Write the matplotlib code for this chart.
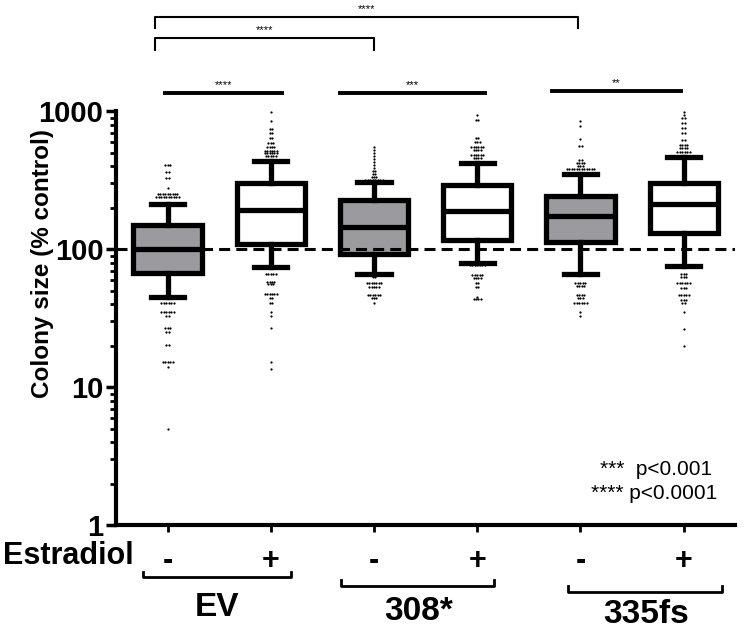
import matplotlib
matplotlib.use("Agg")
import matplotlib.pyplot as plt
import matplotlib.transforms as mtransforms
from matplotlib.ticker import FixedLocator, NullFormatter

plt.rcParams['font.family'] = ['Liberation Sans', 'DejaVu Sans']

# groups / conditions
groups = ['EV', '308*', '335fs']
estradiol = ['-', '+', '-', '+', '-', '+']

# box statistics (% control)
medians = [100, 192, 145, 188, 173, 212]
q1s = [67, 109, 92, 116, 112, 131]
q3s = [151, 300, 226, 291, 245, 300]
whisk_lo = [45, 74, 66, 80, 66, 75]
whisk_hi = [212, 435, 306, 420, 349, 464]

# outliers (points beyond the whiskers), one list per box
out_ev_minus = ([407] * 3 + [361] * 2 + [327] * 2 + [277] + [251] * 9 + [238] * 10
                + [40.6] * 6 + [34.9] * 6 + [32.7] * 2 + [26.8] * 3 + [25.1] * 2
                + [20.2] * 2 + [15.2] * 5 + [14.0] + [5.0])
out_ev_plus = ([983, 846] + [740] * 2 + [693] * 2 + [637] * 2 + [586] * 3 + [548] * 4
               + [513] * 6 + [496] * 6 + [472] * 5
               + [65.9] * 5 + [57.7] * 4 + [55.8] * 3 + [47.2] * 6 + [44.2] * 2
               + [40.6] * 2 + [34.9, 32.7, 26.8, 15.2, 13.5])
out_308_minus = ([548, 522, 496, 472, 449, 427, 406, 386] + [367] * 2 + [349] * 2
                 + [332] * 3 + [316] * 8
                 + [62.6] * 2 + [56.5] * 7 + [53.2] * 5 + [46.4] * 6 + [44.2] * 3 + [40.6])
out_308_plus = ([935] + [861] * 2 + [637] * 2 + [596] * 3 + [548] * 6 + [522] * 4
                + [480] * 6 + [456] * 4
                + [76.5] * 7 + [64.9] * 5 + [62.0] * 4 + [56.5] * 2 + [53.2] * 2
                + [44.9] + [43.3] * 4)
out_335_minus = ([846, 778, 627] + [558] * 2 + [441] * 2 + [420] * 4 + [400] * 3 + [380] * 12
                 + [56.5] * 5 + [54.0] * 4 + [46.4] * 4 + [44.2] * 3 + [40.6] * 6
                 + [34.9, 32.7])
out_335_plus = ([983, 935] + [890] * 2 + [819] * 2 + [753] * 2 + [693] * 2 + [617] * 2
                + [567] * 4 + [539] * 4 + [505] * 6
                + [65.9] * 3 + [62.6] * 3 + [56.5] * 6 + [52.4] * 3 + [46.4] * 5
                + [42.7] * 3 + [40.6] * 2 + [34.9, 26.3, 19.8])
outliers = [out_ev_minus, out_ev_plus, out_308_minus, out_308_plus,
            out_335_minus, out_335_plus]

box_colors = ['#9b9a9f', 'white', '#9b9a9f', 'white', '#9b9a9f', 'white']

fig = plt.figure(figsize=(7.48, 6.32), dpi=100)
ax = fig.add_axes([0.155, 0.169, 0.828, 0.655])

positions = list(range(len(medians)))
stats = []
for i in positions:
    stats.append(dict(med=medians[i], q1=q1s[i], q3=q3s[i],
                      whislo=whisk_lo[i], whishi=whisk_hi[i], fliers=[]))

lw = 3.8
bp = ax.bxp(stats, positions=positions, widths=0.66, patch_artist=True,
            showfliers=False,
            boxprops=dict(linewidth=lw, edgecolor='black'),
            medianprops=dict(linewidth=lw, color='black'),
            whiskerprops=dict(linewidth=lw, color='black'),
            capprops=dict(linewidth=lw, color='black'),
            capwidths=0.32)
for patch, c in zip(bp['boxes'], box_colors):
    patch.set_facecolor(c)

# simple swarm: spread equal values sideways
step = 0.024
for pos, vals in zip(positions, outliers):
    xs, ys = [], []
    for v in sorted(set(vals)):
        n = vals.count(v)
        for k in range(n):
            xs.append(pos + (k - (n - 1) / 2) * step)
            ys.append(v)
    ax.scatter(xs, ys, s=2.6, color='black', zorder=4, linewidths=0)

ax.axhline(100, color='black', linestyle=(0, (3.6, 2.0)), linewidth=2.2, zorder=5)

ax.set_yscale('log')
ax.set_ylim(1, 1000)
ax.set_xlim(-0.5, 5.5)
ax.yaxis.set_major_locator(FixedLocator([1, 10, 100, 1000]))
ax.set_yticklabels(['1', '10', '100', '1000'], fontsize=21, fontweight='bold')
ax.yaxis.set_minor_formatter(NullFormatter())
ax.tick_params(axis='y', which='major', length=7, width=2.5, pad=2)
ax.tick_params(axis='y', which='minor', length=4, width=2)
ax.set_xticks(positions)
ax.set_xticklabels(estradiol, fontsize=22, fontweight='bold')
ax.tick_params(axis='x', length=5, width=2, pad=10)

for side in ['top', 'right']:
    ax.spines[side].set_visible(False)
for side in ['left', 'bottom']:
    ax.spines[side].set_linewidth(3)

ax.set_ylabel('Colony size (% control)', fontsize=17.5, fontweight='bold')
ax.yaxis.set_label_coords(-0.1, 0.632)

fig.text(0.004, 1 - 556 / 632, 'Estradiol', fontsize=22, fontweight='bold', va='center')

trans = mtransforms.blended_transform_factory(ax.transData, ax.transAxes)

# group brackets under the axis
grp_x = [(-0.24, 1.20), (1.68, 3.16), (3.88, 5.375)]
grp_y = [-0.126, -0.147, -0.162]
grp_lbl_x = [0.48, 2.43, 4.64]
grp_lbl_y = [-0.2, -0.208, -0.215]
for (x0, x1), y, lx, ly, name in zip(grp_x, grp_y, grp_lbl_x, grp_lbl_y, groups):
    ax.plot([x0, x0, x1, x1], [y + 0.014, y, y, y + 0.014], color='black', lw=2,
            transform=trans, clip_on=False)
    ax.text(lx, ly, name, transform=trans, ha='center', va='center',
            fontsize=24, fontweight='bold')

# significance: within-group lines
sig_x = [(-0.02, 1.11), (1.67, 3.08), (3.72, 4.97)]
sig_y = [1.043, 1.043, 1.048]
sig_txt = ['****', '***', '**']
for (x0, x1), y, t in zip(sig_x, sig_y, sig_txt):
    ax.plot([x0, x1], [y, y], color='black', lw=2.8, transform=trans, clip_on=False)
    ax.text((x0 + x1) / 2, y + 0.008, t, transform=trans, ha='center', va='bottom',
            fontsize=8)

# significance: brackets between groups
br_x = [(-0.125, 2.0), (-0.125, 3.98)]
br_y = [1.176, 1.227]
for (x0, x1), y in zip(br_x, br_y):
    ax.plot([x0, x0, x1, x1], [y - 0.027, y, y, y - 0.027], color='black', lw=1.5,
            transform=trans, clip_on=False)
    ax.text((x0 + x1) / 2, y + 0.008, '****', transform=trans, ha='center',
            va='bottom', fontsize=8)

ax.text(0.963, 0.135, '***  p<0.001', transform=ax.transAxes, ha='right',
        va='center', fontsize=15)
ax.text(0.971, 0.077, '**** p<0.0001', transform=ax.transAxes, ha='right',
        va='center', fontsize=15)

fig.savefig('out.png', dpi=100)
